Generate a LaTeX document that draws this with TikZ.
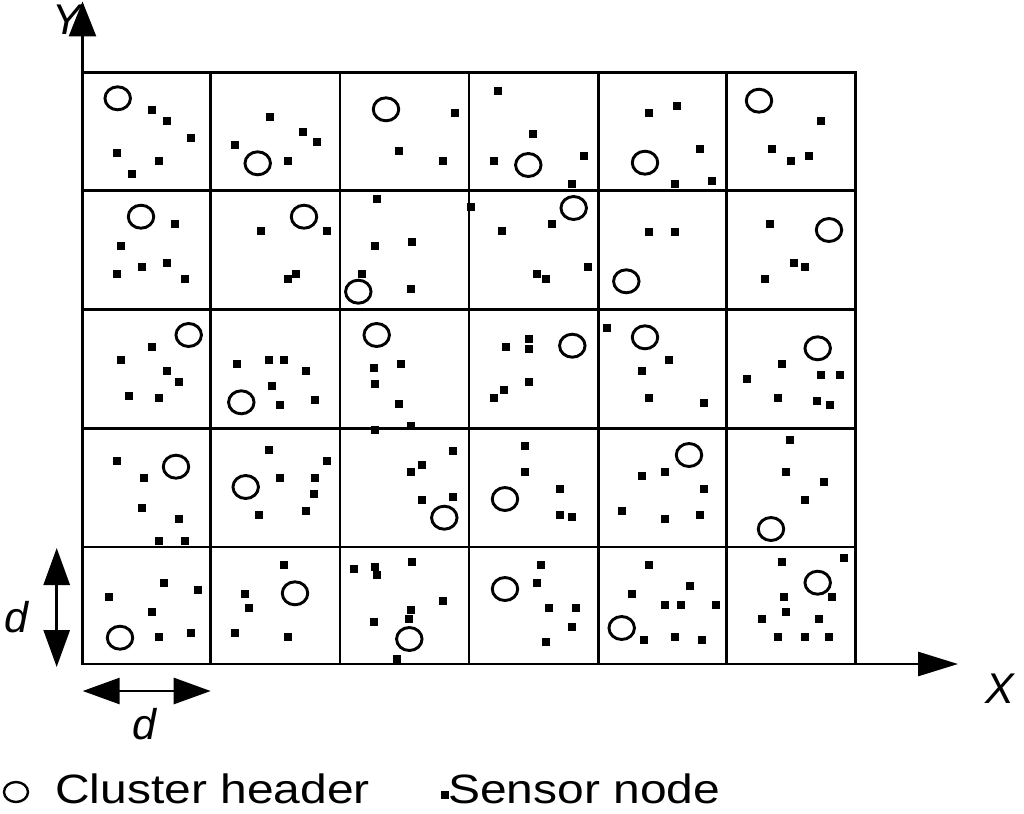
\documentclass[tikz,border=0pt]{standalone}
\usepackage{fontspec}
\setmainfont{Liberation Sans}
\newfontfamily\legendfont[FakeStretch=1.17]{Liberation Sans}
\usetikzlibrary{arrows.meta, positioning, shapes.geometric}
\tikzset{
  cell/.style={line width=2.8pt, line cap=rect},
  header/.style={draw, ellipse, line width=2.9pt, minimum width=25.5pt, minimum height=23pt, inner sep=0pt},
  sensor/.style={fill, rectangle, minimum width=8pt, minimum height=7.5pt, inner sep=0pt},
  axis/.style={line width=2.8pt},
  span/.style={line width=2.8pt, {Triangle[length=37pt, width=26pt]}-{Triangle[length=37pt, width=26pt]}},
  axislabel/.style={font=\fontsize{43}{50}\selectfont\itshape, inner sep=0pt},
  legend/.style={font=\legendfont\fontsize{41}{48}\selectfont, inner sep=0pt, anchor=base west}
}

\begin{document}
\begin{tikzpicture}[x=1pt, y=-1pt]
    \useasboundingbox (0,0) rectangle (1024,813);

    % the d x d cells
    \foreach \gx in {82.5,210.5,340,469,598.3,726.7,855.5}
        \draw[cell] (\gx,72.5) -- (\gx,664);
    \foreach \gy in {72.5,190.5,309.5,428.5,547,664}
        \draw[cell] (82.5,\gy) -- (855.5,\gy);

    % cluster headers
    \foreach \px/\py [count=\k] in {
        117.7/98.3, 257.7/163.3, 386/109.3, 528.3/165, 645/162.7, 759/100.7,
        141/216.7, 304/216.7, 358.3/291.7, 573.7/208, 626.3/281.3, 829/230,
        188.7/335, 241.3/402.3, 376.7/335, 572.3/345.7, 645/337.3, 817.7/348.3,
        176/466.7, 245.7/487, 444.3/517.7, 505/499, 689/455, 771/529,
        120/637.7, 295/593.3, 409.3/639, 505/589, 621.7/628, 817.7/582.7}
        \node[header] (h\k) at (\px,\py) {};

    % sensor nodes
    \foreach \px/\py [count=\k] in {
        152/110, 167/121, 191/138, 117/153, 159/161, 132/174,
        270/117, 303/132, 317/142, 235/145, 288/161,
        455/113, 399/151, 443/161,
        498/91, 533/134, 494/161, 584/156, 572/184,
        649/113, 677/106, 700/149, 675/184, 712/181,
        821/121, 772/149, 791/161, 809/156,
        175/224, 121/246, 167/263, 142/267, 117/274, 185/279,
        261/231, 327/231, 296/274, 288/279,
        377/199, 375/246, 412/242, 362/274, 411/289,
        471/207, 502/231, 552/224, 588/267, 537/274, 546/279,
        649/232, 675/232,
        770/224, 794/263, 805/267, 765/279,
        152/347, 121/360, 167/371, 179/382, 129/396, 159/398,
        237/364, 269/360, 284/360, 306/371, 272/386, 280/405, 315/400,
        401/364, 374/368, 375/384, 399/404, 375/430, 411/426,
        506/347, 529/339, 529/349, 529/382, 504/390, 494/398,
        607/328, 669/360, 642/371, 649/398, 704/403,
        782/364, 747/379, 821/375, 840/375, 778/398, 817/401, 830/405,
        117/461, 144/478, 142/508, 179/519, 159/541, 185/541,
        269/450, 327/461, 280/478, 315/478, 314/494, 306/511, 259/515,
        453/451, 422/465, 411/472, 422/500, 453/497,
        525/446, 525/472, 560/489, 560/515, 572/517,
        642/476, 665/472, 704/489, 622/511, 665/519, 700/515,
        790/440, 786/472, 824/482, 805/500,
        164/583, 198/590, 109/597, 152/612, 159/637, 191/633,
        284/565, 245/594, 249/608, 235/633, 288/637,
        354/569, 375/567, 377/575, 412/562, 443/601, 411/610, 409/619, 374/622, 397/659,
        541/565, 537/583, 549/608, 576/608, 572/627, 546/642,
        649/565, 690/586, 632/594, 665/605, 681/605, 716/605, 644/640, 675/637, 702/640,
        782/562, 844/558, 784/597, 832/597, 786/612, 762/619, 819/619, 778/637, 805/637, 829/637}
        \node[sensor] (s\k) at (\px,\py) {};

    % axes
    \coordinate (O) at (82.5,664);
    \coordinate (ytip) at (82.5,1.5);
    \coordinate (xtip) at (958,664);
    \draw[axis, -{Triangle[length=35pt, width=27pt]}] (O) -- (ytip);
    \draw[axis, -{Triangle[length=40pt, width=24pt]}] (O) -- (xtip);
    \node[axislabel] (ylab) at (67,20) {Y};
    \node[axislabel] (xlab) at (1000,689) {X};

    % cell size d
    \coordinate (dtop) at (56.7,548);
    \coordinate (dbot) at (56.7,667);
    \coordinate (dleft) at (82.7,691);
    \coordinate (dright) at (210.7,691);
    \draw[span] (dtop) -- (dbot);
    \draw[span] (dleft) -- (dright);
    \node[axislabel] (dv) at (16,617) {d};
    \node[axislabel] (dh) at (144,724) {d};

    % legend
    \node[header, minimum width=24pt, minimum height=20pt, line width=2.4pt] (keyhead) at (16,792) {};
    \node[sensor] (keysensor) at (445,795) {};
    \node[legend] (keyheadtxt) at (55,803) {Cluster header};
    \node[legend] (keysensortxt) at (448,803) {Sensor node};
\end{tikzpicture}
\end{document}
